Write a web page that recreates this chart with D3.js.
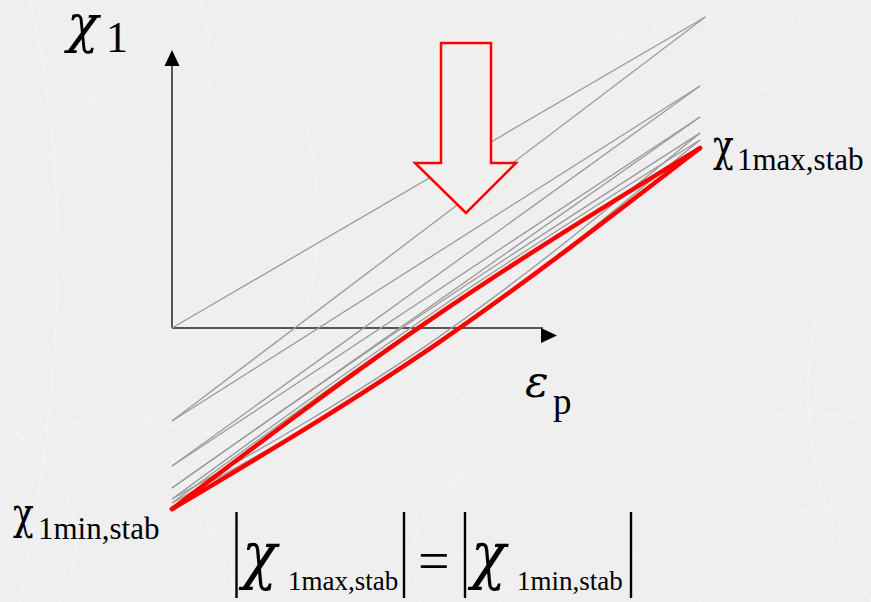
<!DOCTYPE html>
<html>
<head>
<meta charset="utf-8">
<script src="https://cdn.jsdelivr.net/npm/d3@7"></script>
<style>
  html, body { margin: 0; padding: 0; background: #efefef; }
  svg { display: block; }
</style>
</head>
<body>
<svg id="chart" width="871" height="602"></svg>
<script>
// Reversal points of the cyclic path: plastic strain (ε_p) and back stress χ1,
// normalised so that the stabilised loop runs between χ1 = -1 and +1.
const reversalStrain = [0, 1.01, 0, 1, 0, 1, 0, 1, 0, 1, 0, 1];
const reversalChi    = [0, 1.718, -0.514, 1.337, -0.762, 1.166, -0.884, 1.077, -0.945, 1.039, -0.967, 0.994];
// χ1 at mid-span (ε_p = 0.5) of each branch; null means the branch is straight
const branchMidChi   = [null, null, null, null, null, null, 0.127, -0.06, 0.097, -0.1, 0.074];

// Stabilised loop (red): corner values and mid-span values of both branches
const stableStrain = [0, 0.5, 1];
const stableUpper  = [-1, 0.067, 0.994];
const stableLower  = [0.994, -0.09, -1];

const SERIF = "'Liberation Serif', 'Times New Roman', serif";
const GREEK = "'DejaVu Serif', serif";

const svg = d3.select("#chart").attr("font-family", SERIF);
const W = 871, H = 602;

// faint scratched background texture
const bg = svg.append("g");
bg.append("rect").attr("width", W).attr("height", H).attr("fill", "#efefef");
const scratches = [
  "M0,120 Q200,60 420,150", "M30,0 Q90,250 20,602", "M120,600 Q300,420 520,600",
  "M600,0 Q700,200 871,260", "M500,602 Q650,380 871,420", "M0,300 Q150,360 240,602",
  "M260,0 Q350,180 300,330", "M871,60 Q700,140 640,0", "M0,450 Q120,380 300,470",
  "M700,602 Q760,480 871,520", "M350,0 Q520,90 760,0", "M0,220 Q60,150 160,0",
  "M820,300 Q780,450 871,602", "M60,602 Q110,500 0,420", "M420,602 Q380,480 560,430",
  "M150,250 Q250,200 330,260", "M740,330 Q820,260 871,330", "M600,500 Q620,560 700,600",
  "M200,0 Q240,120 130,200", "M560,240 Q640,300 780,280", "M300,380 Q420,330 480,420",
  "M0,30 Q60,80 110,60", "M790,0 Q830,90 871,110", "M330,470 Q420,520 470,470"
];
bg.selectAll("path").data(scratches).join("path")
  .attr("d", d => d)
  .attr("fill", "none")
  .attr("stroke", "#ffffff")
  .attr("stroke-opacity", 0.4)
  .attr("stroke-width", 1.1);

const x = d3.scaleLinear().domain([0, 1]).range([172, 700]);
const y = d3.scaleLinear().domain([-1, 1]).range([509, 147]);

const line = d3.line().x(d => x(d[0])).y(d => y(d[1])).curve(d3.curveNatural);

// axes with arrowheads
const ax = svg.append("g").attr("stroke", "#222").attr("stroke-width", 1.5);
ax.append("line").attr("x1", x(0)).attr("y1", y(0)).attr("x2", x(0)).attr("y2", 64);
ax.append("line").attr("x1", x(0)).attr("y1", y(0)).attr("x2", 543).attr("y2", y(0));
svg.append("path").attr("d", `M${x(0)},50 L${x(0) - 7.5},66 L${x(0) + 7.5},66 Z`).attr("fill", "#000");
svg.append("path").attr("d", `M541,328 L557,335.5 L541,343 Z`).attr("fill", "#000");

// transient branches (gray)
const branches = [];
for (let i = 0; i < reversalStrain.length - 1; i++) {
  const a = [reversalStrain[i], reversalChi[i]];
  const b = [reversalStrain[i + 1], reversalChi[i + 1]];
  branches.push(branchMidChi[i] === null ? [a, b] : [a, [0.5, branchMidChi[i]], b]);
}
svg.append("g").selectAll("path").data(branches).join("path")
  .attr("d", line)
  .attr("fill", "none")
  .attr("stroke", "#9a9a9a")
  .attr("stroke-width", 1.3);

// stabilised loop (red)
const redG = svg.append("g");
[stableUpper, stableLower].forEach((vals, k) => {
  const strains = k === 0 ? stableStrain : stableStrain.slice().reverse();
  redG.append("path")
    .datum(strains.map((s, j) => [s, vals[j]]))
    .attr("d", line)
    .attr("fill", "none")
    .attr("stroke", "#ff0000")
    .attr("stroke-width", 4.5)
    .attr("stroke-linecap", "round");
});

// hollow arrow showing the downward drift of the loops
svg.append("path")
  .attr("d", "M441,43 L491,43 L491,163 L516,163 L466,213 L415,163 L441,163 Z")
  .attr("fill", "#f0f0f0")
  .attr("stroke", "#ff0000")
  .attr("stroke-width", 2.5)
  .attr("stroke-linejoin", "miter");

// Greek letter helper: separate text so it can be narrowed
function greek(px, py, size, italic, sx, str) {
  return svg.append("text")
    .attr("transform", `translate(${px},${py}) scale(${sx},1)`)
    .attr("font-family", GREEK)
    .attr("font-style", italic ? "italic" : "normal")
    .attr("font-size", size)
    .text(str);
}
function sub(px, py, size, str) {
  return svg.append("text").attr("x", px).attr("y", py).attr("font-size", size).text(str);
}

// axis labels
greek(67, 42, 52, true, 1, "χ");
sub(106, 52, 44, "1");
greek(525, 397, 44, true, 1, "ε");
sub(553, 414, 37, "p");

// stabilised extremes
greek(713, 161, 44, false, 0.78, "χ");
sub(737, 170, 31, "1max,stab");
greek(13, 529, 44, false, 0.78, "χ");
sub(38, 539, 31, "1min,stab");

// |χ1max,stab| = |χ1min,stab|
const bars = [236.5, 404, 465, 631];
svg.append("g").selectAll("line").data(bars).join("line")
  .attr("x1", d => d).attr("x2", d => d)
  .attr("y1", 512).attr("y2", 598)
  .attr("stroke", "#000").attr("stroke-width", 2.4);
greek(242, 577, 64, true, 0.9, "χ");
sub(288, 590, 27, "1max,stab");
sub(418, 580, 56, "=");
greek(471, 577, 64, true, 0.9, "χ");
sub(517, 590, 27, "1min,stab");
</script>
</body>
</html>
